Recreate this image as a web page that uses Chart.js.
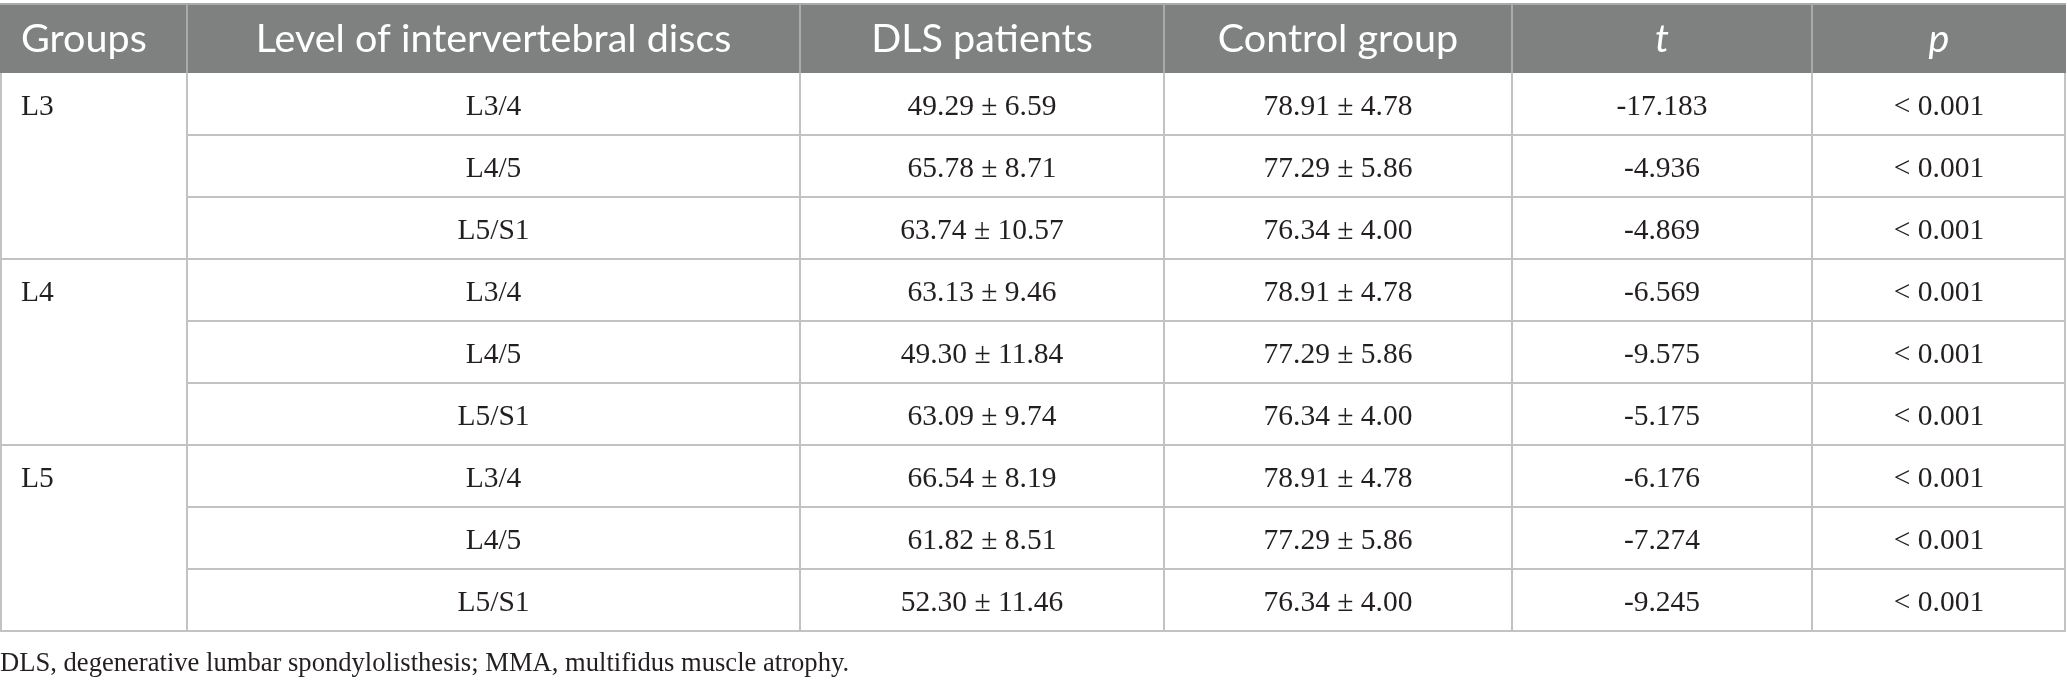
<!DOCTYPE html>
<html><head><meta charset="utf-8">
<script src="https://cdn.jsdelivr.net/npm/chart.js@4.4.1/dist/chart.umd.min.js"></script>
<style>html,body{margin:0;padding:0;background:#fff;overflow:hidden}#wrap{width:2067px;height:683px}</style>
</head><body><div id="wrap"><canvas id="c" width="2067" height="683"></canvas></div>
<script>
// ---------- data ----------
const headers = ['Groups', 'Level of intervertebral discs', 'DLS patients', 'Control group', 't', 'p'];
const groups = ['L3', 'L4', 'L5'];
const discLevels = ['L3/4', 'L4/5', 'L5/S1', 'L3/4', 'L4/5', 'L5/S1', 'L3/4', 'L4/5', 'L5/S1'];
const dlsMean = [49.29, 65.78, 63.74, 63.13, 49.30, 63.09, 66.54, 61.82, 52.30];
const dlsSD = [6.59, 8.71, 10.57, 9.46, 11.84, 9.74, 8.19, 8.51, 11.46];
const controlMean = [78.91, 77.29, 76.34, 78.91, 77.29, 76.34, 78.91, 77.29, 76.34];
const controlSD = [4.78, 5.86, 4.00, 4.78, 5.86, 4.00, 4.78, 5.86, 4.00];
const tStat = [-17.183, -4.936, -4.869, -6.569, -9.575, -5.175, -6.176, -7.274, -9.245];
const pLabel = ['< 0.001', '< 0.001', '< 0.001', '< 0.001', '< 0.001', '< 0.001', '< 0.001', '< 0.001', '< 0.001'];
const footnote = 'DLS, degenerative lumbar spondylolisthesis; MMA, multifidus muscle atrophy.';

// ---------- layout (style only) ----------
const colEdges = [0, 187, 800, 1164, 1512, 1812, 2066];
const ROW = 62;            // body row height (px) -> 1 unit on y scale
const HEAD = 69 / ROW;     // header height in row units
const Y_MIN = -73 / ROW, Y_MAX = 610 / ROW;
const PADL = 21;
const SERIF = '"Liberation Serif", "DejaVu Serif", serif';
const SANS = 'Lato, "Open Sans", sans-serif';
const BODY_FONT = '29.5px ' + SERIF;

const center = i => (colEdges[i] + colEdges[i + 1]) / 2;
const fmtPM = (m, s) => m.toFixed(2) + ' \u00b1 ' + s.toFixed(2);

function col(i, labels, opts) {
  return Object.assign({
    data: labels.map((lab, r) => ({ x: center(i), y: r + 0.5, label: lab })),
    pointRadius: 0, align: 'center', font: BODY_FONT, color: '#231f20', dy: 3
  }, opts || {});
}

const datasets = [
  { // header
    data: headers.map((h, i) => ({ x: i === 0 ? colEdges[0] + PADL : center(i), y: -HEAD / 2, label: h, italic: i >= 4 })),
    pointRadius: 0, headerRow: true, color: '#ffffff', dy: 1
  },
  { // groups (merged cells, label on first row)
    data: groups.map((g, k) => ({ x: colEdges[0] + PADL, y: k * 3 + 0.5, label: g })),
    pointRadius: 0, align: 'left', font: BODY_FONT, color: '#231f20', dy: 3
  },
  col(1, discLevels),
  col(2, dlsMean.map((m, i) => fmtPM(m, dlsSD[i]))),
  col(3, controlMean.map((m, i) => fmtPM(m, controlSD[i]))),
  col(4, tStat.map(v => v.toFixed(3))),
  col(5, pLabel),
  { // footnote
    data: [{ x: 0, y: (661 - 73) / ROW, label: footnote }],
    pointRadius: 0, align: 'left', font: '26.6px ' + SERIF, color: '#231f20', dy: 3
  }
];

const tablePlugin = {
  id: 'tablePlugin',
  beforeDatasetsDraw(chart) {
    const { ctx, scales: { x, y } } = chart;
    const X = v => x.getPixelForValue(v), Y = v => y.getPixelForValue(v);
    ctx.save();
    // header background
    ctx.fillStyle = '#7f8180';
    ctx.fillRect(X(colEdges[0]), Y(-HEAD), X(colEdges[6]) - X(colEdges[0]), Y(0) - Y(-HEAD));
    ctx.lineWidth = 2;
    // header top line
    ctx.strokeStyle = '#a9aaa9';
    ctx.beginPath(); ctx.moveTo(X(colEdges[0]), Y(-HEAD)); ctx.lineTo(X(colEdges[6]), Y(-HEAD)); ctx.stroke();
    // header column dividers
    for (let i = 1; i < 6; i++) {
      ctx.beginPath(); ctx.moveTo(X(colEdges[i]), Y(-HEAD)); ctx.lineTo(X(colEdges[i]), Y(0)); ctx.stroke();
    }
    // body grid
    ctx.strokeStyle = '#c2c2c2';
    for (let r = 1; r <= 9; r++) {
      const start = (r % 3 === 0) ? colEdges[0] : colEdges[1];
      ctx.beginPath(); ctx.moveTo(X(start), Y(r)); ctx.lineTo(X(colEdges[6]), Y(r)); ctx.stroke();
    }
    for (let i = 0; i < 7; i++) {
      const xx = i === 0 ? X(colEdges[0]) + 1 : (i === 6 ? X(colEdges[6]) - 1 : X(colEdges[i]));
      ctx.beginPath(); ctx.moveTo(xx, Y(0)); ctx.lineTo(xx, Y(9) + 1); ctx.stroke();
    }
    ctx.restore();
  },
  afterDatasetsDraw(chart) {
    const { ctx } = chart;
    ctx.save();
    ctx.textBaseline = 'middle';
    chart.data.datasets.forEach((ds, di) => {
      const meta = chart.getDatasetMeta(di);
      meta.data.forEach((el, j) => {
        const d = ds.data[j];
        ctx.fillStyle = ds.color;
        if (ds.headerRow) {
          ctx.font = (d.italic ? 'italic ' : '') + '39.5px ' + SANS;
          ctx.textAlign = j === 0 ? 'left' : 'center';
        } else {
          ctx.font = ds.font;
          ctx.textAlign = ds.align;
        }
        ctx.fillText(d.label, el.x, el.y + (ds.dy || 0));
      });
    });
    ctx.restore();
  }
};

new Chart(document.getElementById('c'), {
  type: 'scatter',
  data: { datasets },
  options: {
    responsive: false, devicePixelRatio: 1, animation: false,
    layout: { padding: 0 },
    plugins: { legend: { display: false }, tooltip: { enabled: false } },
    events: [],
    scales: {
      x: { type: 'linear', min: 0, max: 2067, display: false },
      y: { type: 'linear', min: Y_MIN, max: Y_MAX, reverse: true, display: false }
    }
  },
  plugins: [tablePlugin]
});
</script></body></html>
